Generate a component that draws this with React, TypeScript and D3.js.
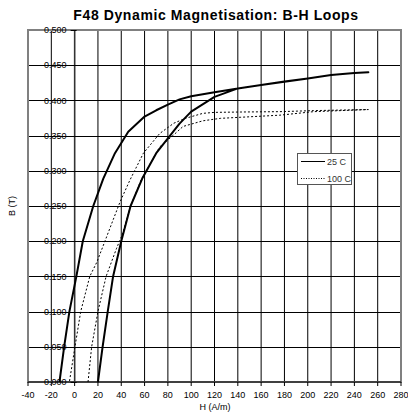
import React from "react";
import * as d3 from "d3";

const title = "F48 Dynamic Magnetisation: B-H Loops";
const xTicks = [-40, -20, 0, 20, 40, 60, 80, 100, 120, 140, 160, 180, 200, 220, 240, 260, 280];
const yTicks = [0, 0.05, 0.1, 0.15, 0.2, 0.25, 0.3, 0.35, 0.4, 0.45, 0.5];

// 25 C loop: ascending branch then descending branch
const h25 = [20, 24, 28.4, 33, 40, 48, 58, 70, 80, 90, 100, 120, 140, 160, 180, 200, 220, 240, 252,
  240, 220, 200, 180, 160, 140, 120, 100, 90, 80, 70, 60, 46, 34.6, 24.6, 16, 7, 1.5, -4.5, -9, -13];
const b25 = [0, 0.05, 0.1, 0.15, 0.2, 0.25, 0.289, 0.325, 0.346, 0.367, 0.384, 0.405, 0.417, 0.422, 0.427, 0.431, 0.436, 0.439, 0.44,
  0.439, 0.436, 0.431, 0.4266, 0.422, 0.4168, 0.4115, 0.406, 0.4015, 0.394, 0.386, 0.377, 0.3555, 0.325, 0.289, 0.25, 0.2, 0.15, 0.1, 0.05, 0];

// 100 C loop
const h100 = [11.5, 14.6, 20, 27, 36, 41, 48, 57, 73, 85, 93, 110, 125, 142, 176, 205, 252,
  205, 176, 142, 120, 110, 95, 85, 73, 59, 47.5, 39, 26, 19, 13, 5.2, 0.3, -4.5];
const b100 = [0, 0.05, 0.1, 0.15, 0.19, 0.21, 0.25, 0.287, 0.334, 0.351, 0.363, 0.371, 0.3745, 0.376, 0.379, 0.384, 0.387,
  0.3855, 0.384, 0.3835, 0.383, 0.3816, 0.3745, 0.3675, 0.353, 0.325, 0.287, 0.256, 0.2, 0.17, 0.15, 0.1, 0.05, 0];

const seriesNames = ["25 C", "100 C"];

export default function App() {
  const W = 408, H = 413;
  const left = 28, right = 401, top = 30, bottom = 382;
  const x = d3.scaleLinear().domain([-40, 280]).range([left, right]);
  const y = d3.scaleLinear().domain([0, 0.5]).range([bottom, top]);
  const line = d3.line<[number, number]>().x(d => x(d[0])).y(d => y(d[1]));
  const d25 = line(h25.map((h, i) => [h, b25[i]] as [number, number])) || "";
  const d100 = line(h100.map((h, i) => [h, b100[i]] as [number, number])) || "";
  const font = "Liberation Sans, Arial, sans-serif";
  const fmt = d3.format(".3f");
  return (
    <svg width={W} height={H} style={{ position: "absolute", left: 0, top: 0, background: "#fff" }} fontFamily={font}>
      <rect x={0} y={0} width={W} height={H} fill="#fff" />
      <text x={216} y={19.5} textAnchor="middle" fontSize={14} letterSpacing={0.6} fontWeight="bold">{title}</text>
      {/* vertical grid */}
      {xTicks.map(t => (
        <line key={"vx" + t} x1={x(t)} x2={x(t)} y1={top} y2={bottom} stroke="#000" strokeWidth={1} />
      ))}
      {/* horizontal grid */}
      {yTicks.slice(1, -1).map(t => (
        <line key={"hy" + t} x1={left} x2={right} y1={Math.round(y(t)) + 0.5} y2={Math.round(y(t)) + 0.5} stroke="#000" strokeWidth={1} />
      ))}
      {/* frame */}
      <rect x={left} y={top} width={right - left} height={bottom - top} fill="none" stroke="#808080" strokeWidth={2} />
      <line x1={left} x2={right} y1={bottom} y2={bottom} stroke="#000" strokeWidth={1} />
      {/* y axis at H=0 */}
      <line x1={x(0)} x2={x(0)} y1={top} y2={bottom} stroke="#333" strokeWidth={1.5} />
      {yTicks.map(t => (
        <g key={"yt" + t}>
          <line x1={x(0) - 4} x2={x(0) + 2} y1={Math.round(y(t)) + 0.5} y2={Math.round(y(t)) + 0.5} stroke="#000" />
          <text x={x(0) - 8} y={y(t)} dy="0.35em" textAnchor="end" fontSize={9} fill="#000">{fmt(t)}</text>
        </g>
      ))}
      {xTicks.map(t => (
        <g key={"xt" + t}>
          <line x1={x(t)} x2={x(t)} y1={bottom} y2={bottom + 4} stroke="#000" />
          <text x={x(t)} y={398} textAnchor="middle" fontSize={9}>{t}</text>
        </g>
      ))}
      <text x={215} y={409.5} textAnchor="middle" fontSize={9}>H (A/m)</text>
      <text transform={`translate(15,206) rotate(-90)`} textAnchor="middle" fontSize={9}>B (T)</text>
      {/* curves */}
      <path d={d25} fill="none" stroke="#000" strokeWidth={2} strokeLinejoin="round" />
      <path d={d100} fill="none" stroke="#000" strokeWidth={1} strokeDasharray="2,2" />
      {/* legend */}
      <rect x={297.5} y={153.5} width={54} height={31} fill="#fff" stroke="#555" strokeWidth={1} />
      <line x1={301} x2={325} y1={161.5} y2={161.5} stroke="#000" strokeWidth={1} />
      <text x={327} y={161.5} dy="0.35em" fontSize={9} fill="#333">{seriesNames[0]}</text>
      <line x1={301} x2={325} y1={178.5} y2={178.5} stroke="#000" strokeWidth={1} strokeDasharray="1,1.5" />
      <text x={327} y={178.5} dy="0.35em" fontSize={9} fill="#333">{seriesNames[1]}</text>
    </svg>
  );
}
